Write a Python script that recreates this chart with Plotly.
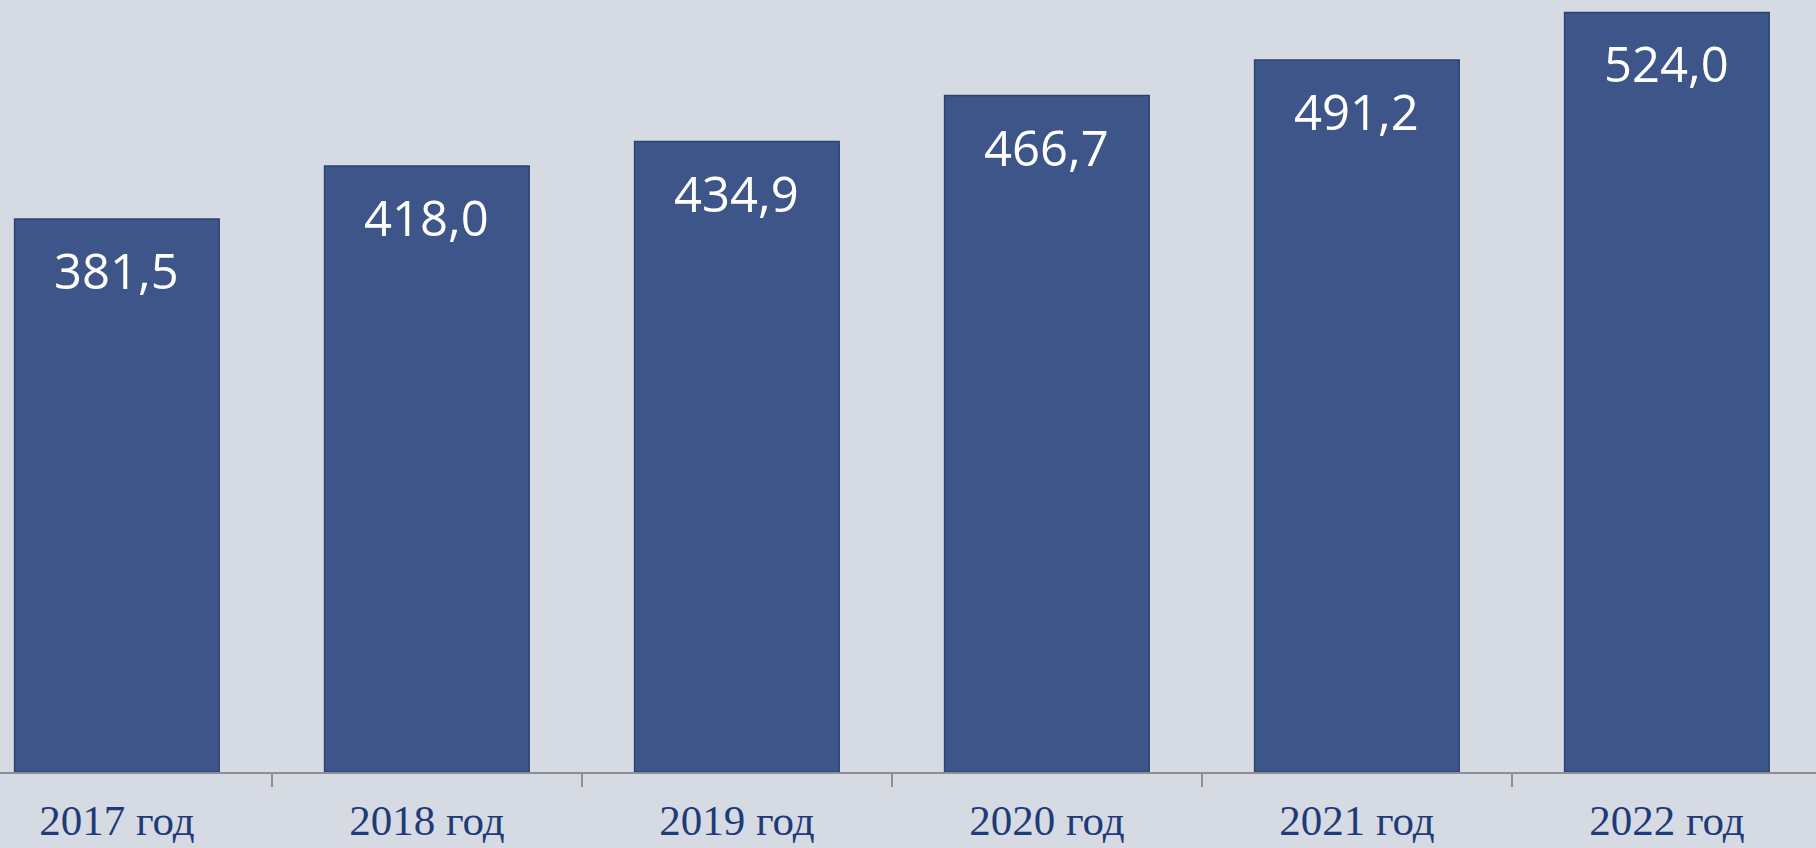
import plotly.graph_objects as go

years = ["2017 год", "2018 год", "2019 год", "2020 год", "2021 год", "2022 год"]
values = [381.5, 418.0, 434.9, 466.7, 491.2, 524.0]
labels = [f"{v:.1f}".replace(".", ",") for v in values]

bg = "#D6DBE3"
bar_color = "#3D5589"

fig = go.Figure()
fig.add_trace(go.Bar(
    x=years,
    y=values,
    width=0.66,
    marker=dict(color=bar_color, line=dict(color="#2E4270", width=1.5)),
    hoverinfo="skip",
))

for x, v, t in zip(years, values, labels):
    fig.add_annotation(
        x=x, y=v, text=t, showarrow=False,
        yanchor="middle", yshift=-51,
        font=dict(family="Open Sans", size=49, color="white"),
    )

fig.update_layout(
    width=1816, height=848,
    margin=dict(l=0, r=0, t=0, b=76, autoexpand=False),
    paper_bgcolor=bg, plot_bgcolor=bg,
    showlegend=False,
    xaxis=dict(
        type="category",
        range=[-0.377, 5.481],
        automargin=False,
        showgrid=False, zeroline=False,
        showline=True, linecolor="#8C8F96", linewidth=2,
        ticks="outside", tickson="boundaries", ticklen=13, tickcolor="#8C8F96", tickwidth=1.5,
        tickfont=dict(family="Liberation Serif", size=43, color="#1F3A78"),
        ticklabelstandoff=9,
        fixedrange=True,
    ),
    yaxis=dict(
        range=[0, 532.6],
        visible=False, showgrid=False, zeroline=False,
        automargin=False,
        fixedrange=True,
    ),
)

fig.write_html(
    "out.html",
    config={"displayModeBar": False},
    post_script="document.body.style.margin='0';document.body.style.padding='0';document.body.style.overflow='hidden';",
)
